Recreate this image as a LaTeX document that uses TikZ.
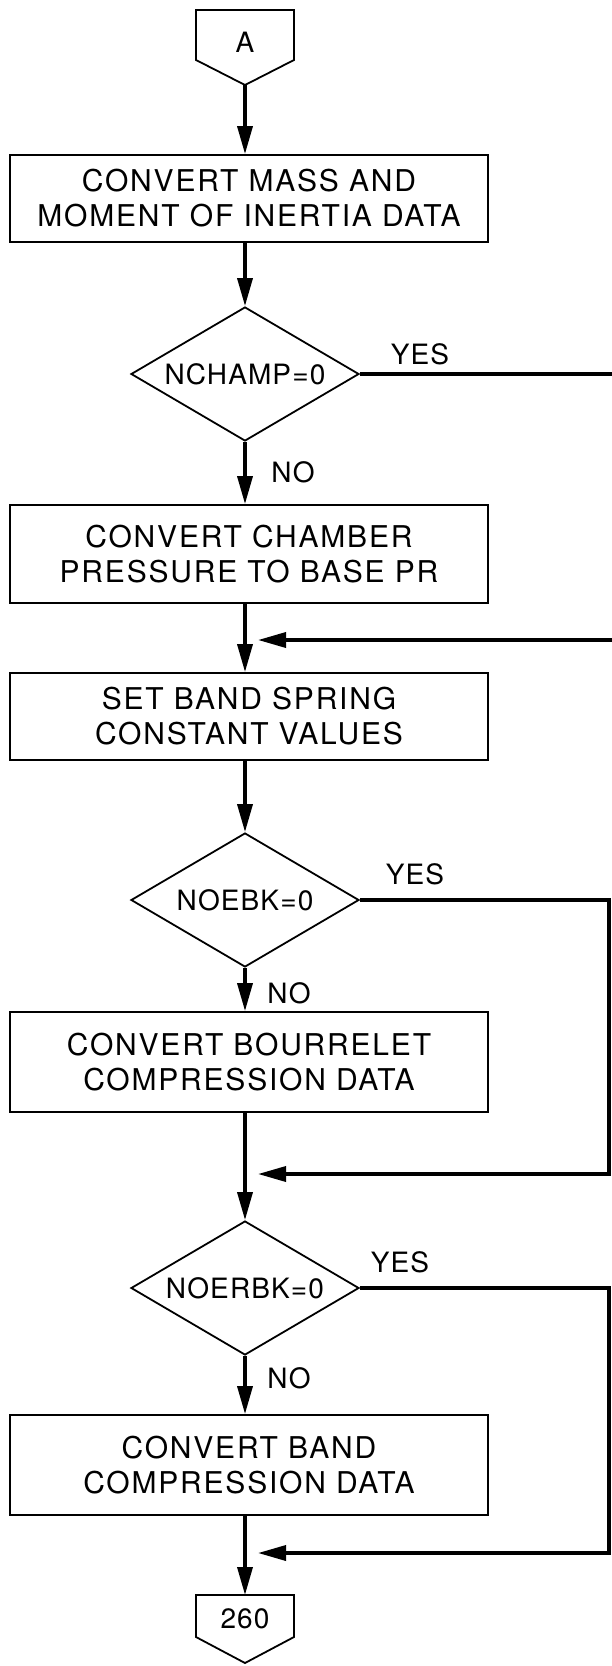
\documentclass[tikz,border=0pt]{standalone}
\usepackage{fontspec}
\setmainfont{TeX Gyre Heros}
\newfontfamily\widefont[LetterSpace=6]{TeX Gyre Heros}
\newfontfamily\midfont[LetterSpace=4]{TeX Gyre Heros}
\usetikzlibrary{arrows.meta,shapes.geometric,calc}
\begin{document}
\begin{tikzpicture}[x=1pt,y=-1pt,
  txt/.style={font=\midfont\fontsize{28}{34}\selectfont},
  procbox/.style={draw, line width=1.8pt, minimum width=478pt, align=center, font=\widefont\fontsize{30}{35}\selectfont, inner sep=0pt},
  decbox/.style={draw, diamond, aspect=1.7, line width=1.8pt, minimum width=228pt, minimum height=134pt, inner sep=0pt, txt},
  flow/.style={line width=3.5pt, -{Triangle[length=28pt,width=15pt]}},
  lbl/.style={txt, inner sep=0pt},
  term/.style={draw, line width=1.8pt, line join=miter}
]
\path[use as bounding box] (0,0) rectangle (612,1666);
\clip (0,0) rectangle (612,1666);

% entry connector A
\draw[term] (196,10) -- (294,10) -- (294,60) -- (245,85) -- (196,60) -- cycle;
\node[lbl] (A) at (245,42) {A};
\coordinate (Atip) at (245,85);

\node[procbox, minimum height=87pt] (b1) at (249,198.5) {CONVERT MASS AND\\MOMENT OF INERTIA DATA};
\node[decbox] (d1) at (245,374) {NCHAMP=0};
\node[procbox, minimum height=98pt] (b2) at (249,554) {CONVERT CHAMBER\\PRESSURE TO BASE PR};
\node[procbox, minimum height=87pt] (b3) at (249,716.5) {SET BAND SPRING\\CONSTANT VALUES};
\node[decbox] (d2) at (245,900) {NOEBK=0};
\node[procbox, minimum height=100pt] (b4) at (249,1062) {CONVERT BOURRELET\\COMPRESSION DATA};
\node[decbox] (d3) at (245,1288) {NOERBK=0};
\node[procbox, minimum height=100pt] (b5) at (249,1465) {CONVERT BAND\\COMPRESSION DATA};

% exit connector 260
\draw[term] (196,1595) -- (294,1595) -- (294,1637) -- (245,1663) -- (196,1637) -- cycle;
\node[lbl] (e) at (245,1619) {260};
\coordinate (etop) at (245,1595);

% join points
\coordinate (j1) at (258,640);
\coordinate (j2) at (258,1174);
\coordinate (j3) at (258,1553);

% main flow
\draw[flow] (Atip) -- (b1.north -| Atip);
\draw[flow] (b1.south -| d1.north) -- (d1.north);
\draw[flow] (d1.south) -- (b2.north -| d1.south);
\draw[flow] (b2.south -| d1.south) -- (b3.north -| d1.south);
\draw[flow] (b3.south -| d2.north) -- (d2.north);
\draw[flow] (d2.south) -- (b4.north -| d2.south);
\draw[flow] (b4.south -| d3.north) -- (d3.north);
\draw[flow] (d3.south) -- (b5.north -| d3.south);
\draw[flow] (b5.south -| etop) -- (etop);

% YES branches
\draw[flow] (d1.east) -- (618,374) -- (618,640) -- (j1);
\draw[flow] (d2.east) -- (609,900) -- (609,1174) -- (j2);
\draw[flow] (d3.east) -- (609,1288) -- (609,1553) -- (j3);

% labels
\node[lbl] (y1) at (420,354) {YES};
\node[lbl] (n1) at (293,472) {NO};
\node[lbl] (y2) at (415,874) {YES};
\node[lbl] (n2) at (289,993) {NO};
\node[lbl] (y3) at (400,1262) {YES};
\node[lbl] (n3) at (289,1378) {NO};
\end{tikzpicture}
\end{document}
